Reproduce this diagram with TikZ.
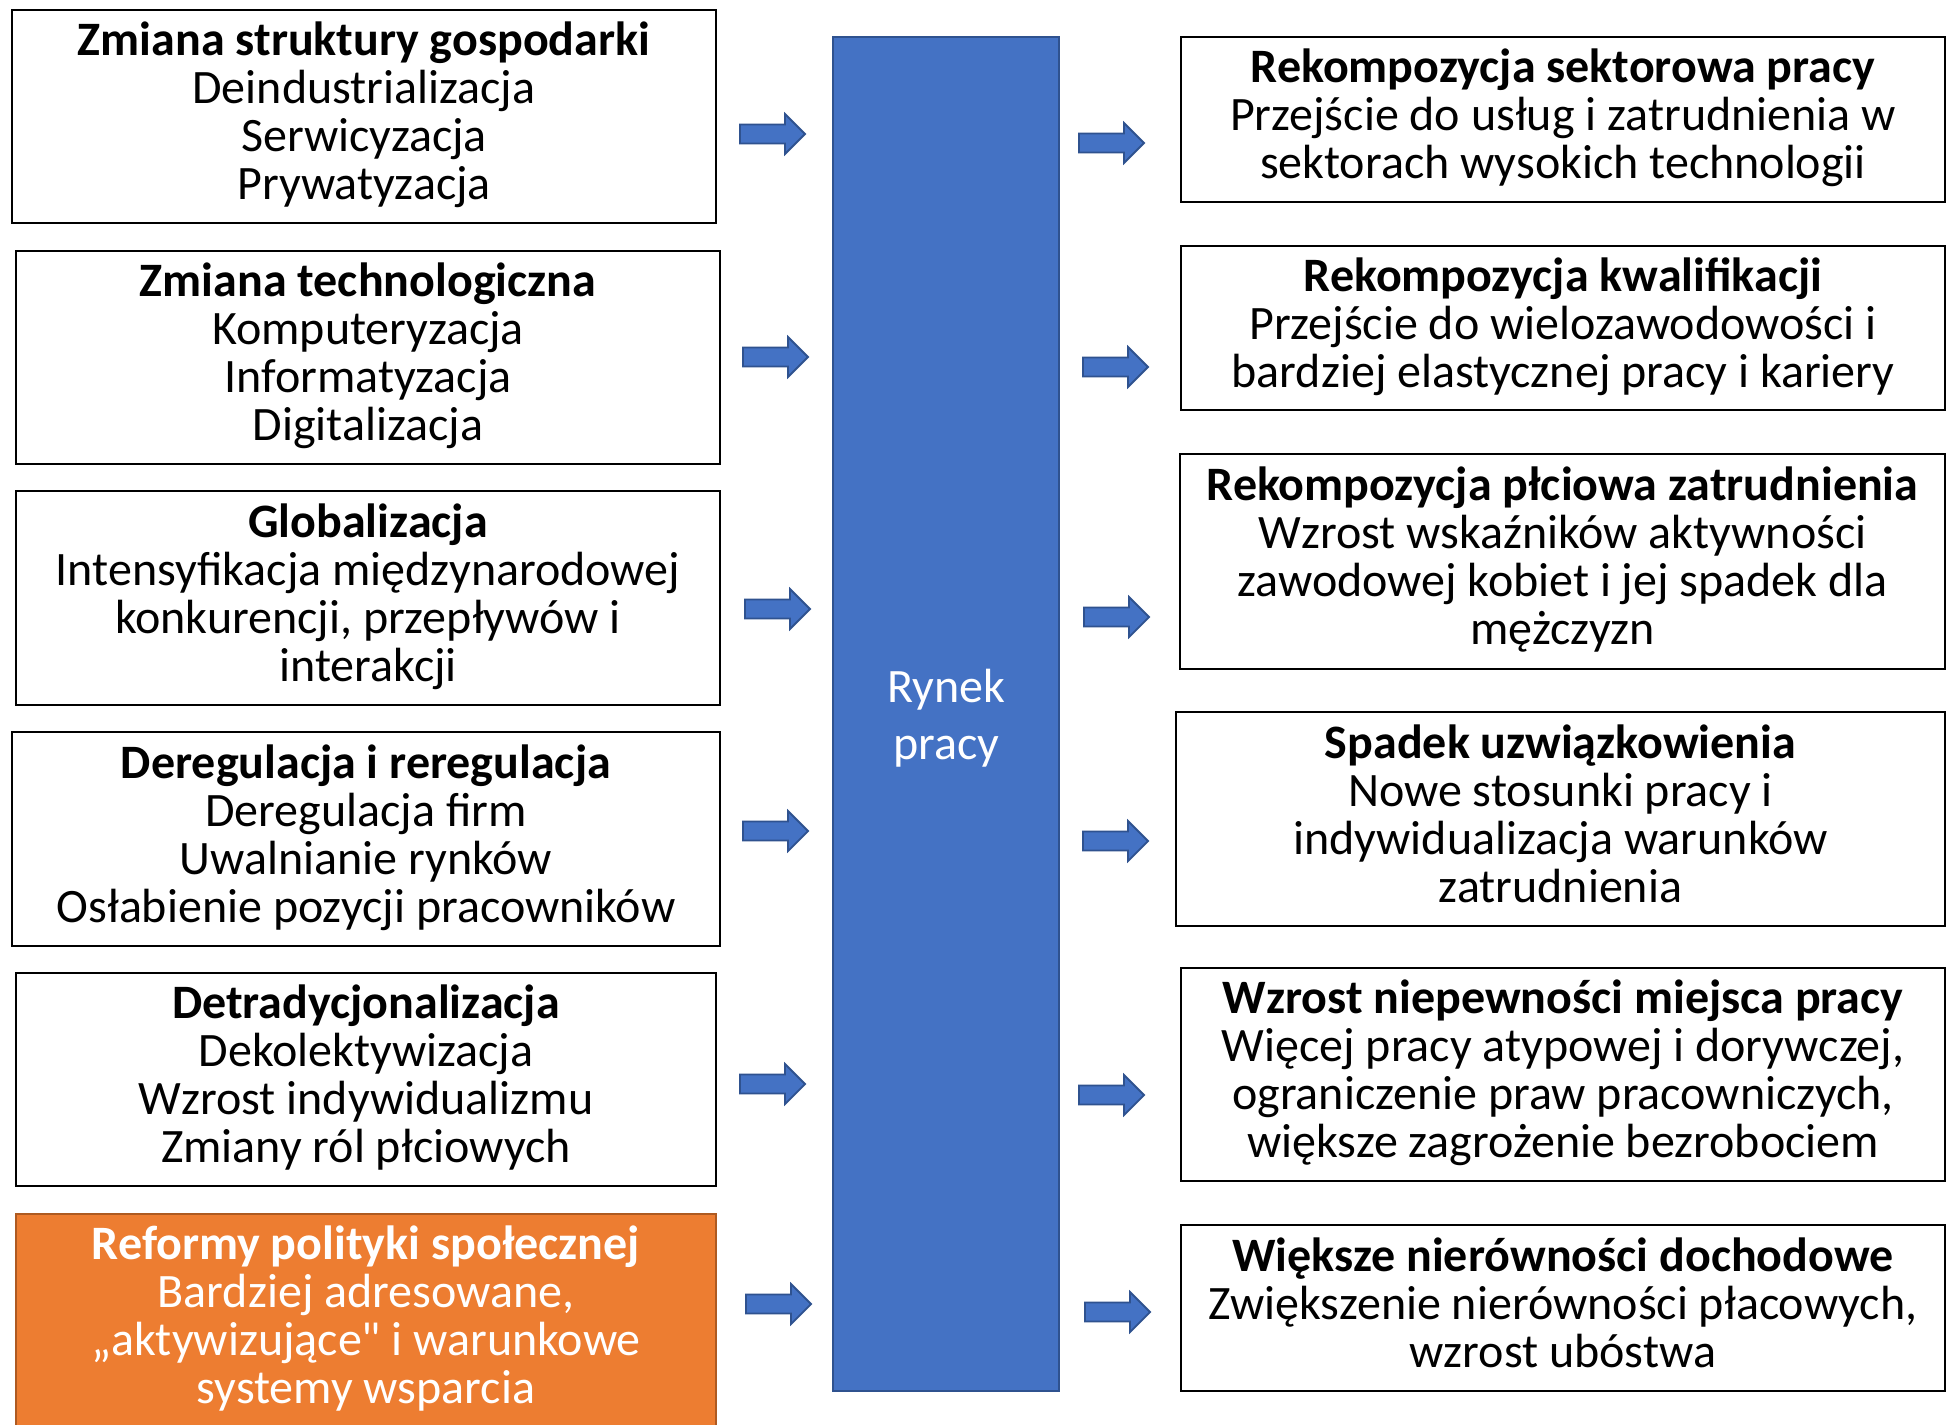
\documentclass[tikz,border=0pt]{standalone}
\usepackage{fontspec}
\setmainfont{Carlito}[Ligatures=TeXOff]
\definecolor{offblue}{HTML}{4472C4}
\definecolor{offblueb}{HTML}{2F528F}
\definecolor{offorange}{HTML}{ED7D31}
\definecolor{offorangeb}{HTML}{AE5A21}
\newcommand{\lnstrut}{\rule[-11pt]{0pt}{48pt}}
\tikzset{
  box/.style={draw=black, line width=2.5pt, fill=white, rectangle, inner sep=0pt, align=center,
    font=\fontsize{48}{48}\selectfont,
    execute at begin node={\lnstrut}, execute at end node={\lnstrut}},
  obox/.style={box, draw=offorangeb, fill=offorange, text=white, line width=2pt},
  mid/.style={draw=offblueb, fill=offblue, line width=2pt, rectangle, inner sep=0pt, align=center,
    text=white, font=\fontsize{48}{57}\selectfont, text depth=0pt},
  arrowstyle/.style={draw=offblueb, fill=offblue, line width=1.8pt, line join=miter},
  barrow/.pic={\path[arrowstyle] (0,-9.5) -- (45,-9.5) -- (45,-20) -- (65,0) -- (45,20) -- (45,9.5) -- (0,9.5) -- cycle;}
}
\begin{document}
\begin{tikzpicture}[x=1pt,y=-1pt]
\useasboundingbox (0,0) rectangle (1956,1424);
\fill[white] (0,0) rectangle (1956,1424);
% left boxes
\node[box, minimum width=704pt, minimum height=213pt] (L1) at (364,116.5)
  {\bfseries Zmiana struktury gospodarki\\Deindustrializacja\\Serwicyzacja\\Prywatyzacja};
\node[box, minimum width=704pt, minimum height=213pt] (L2) at (368,357.5)
  {\bfseries Zmiana technologiczna\\Komputeryzacja\\Informatyzacja\\Digitalizacja};
\node[box, minimum width=704pt, minimum height=214pt] (L3) at (368,598)
  {\bfseries Globalizacja\\Intensyfikacja międzynarodowej\\konkurencji, przepływów i\\interakcji};
\node[box, minimum width=708pt, minimum height=214pt] (L4) at (366,839)
  {\bfseries Deregulacja i reregulacja\\Deregulacja firm\\Uwalnianie rynków\\Osłabienie pozycji pracowników};
\node[box, minimum width=700pt, minimum height=213pt] (L5) at (366,1079.5)
  {\bfseries Detradycjonalizacja\\Dekolektywizacja\\Wzrost indywidualizmu\\Zmiany ról płciowych};
\node[obox, minimum width=700pt, minimum height=212pt] (L6) at (366,1320)
  {\bfseries Reformy polityki społecznej\\Bardziej adresowane,\\„aktywizujące" i warunkowe\\systemy wsparcia};
% middle
\node[mid, minimum width=226pt, minimum height=1354pt] (M) at (946,714) {Rynek\\pracy};
% right boxes
\node[box, minimum width=764pt, minimum height=165pt] (R1) at (1563,119.5)
  {\bfseries Rekompozycja sektorowa pracy\\Przejście do usług i zatrudnienia w\\sektorach wysokich technologii};
\node[box, minimum width=764pt, minimum height=164pt] (R2) at (1563,328)
  {\bfseries Rekompozycja kwalifikacji\\Przejście do wielozawodowości i\\bardziej elastycznej pracy i kariery};
\node[box, minimum width=765pt, minimum height=215pt] (R3) at (1562.5,561.5)
  {\bfseries Rekompozycja płciowa zatrudnienia\\Wzrost wskaźników aktywności\\zawodowej kobiet i jej spadek dla\\mężczyzn};
\node[box, minimum width=769pt, minimum height=214pt] (R4) at (1560.5,819)
  {\bfseries Spadek uzwiązkowienia\\Nowe stosunki pracy i\\indywidualizacja warunków\\zatrudnienia};
\node[box, minimum width=764pt, minimum height=213pt] (R5) at (1563,1074.5)
  {\bfseries Wzrost niepewności miejsca pracy\\Więcej pracy atypowej i dorywczej,\\ograniczenie praw pracowniczych,\\większe zagrożenie bezrobociem};
\node[box, minimum width=764pt, minimum height=166pt] (R6) at (1563,1308)
  {\bfseries Większe nierówności dochodowe\\Zwiększenie nierówności płacowych,\\wzrost ubóstwa};
% arrows
\pic at (740,134) {barrow};
\pic at (743,357) {barrow};
\pic at (745,609) {barrow};
\pic at (743,831) {barrow};
\pic at (740,1084) {barrow};
\pic at (746,1304) {barrow};
\pic at (1079,143) {barrow};
\pic at (1083,367) {barrow};
\pic at (1084,617) {barrow};
\pic at (1083,841) {barrow};
\pic at (1079,1095) {barrow};
\pic at (1085,1312) {barrow};
\end{tikzpicture}
\end{document}
